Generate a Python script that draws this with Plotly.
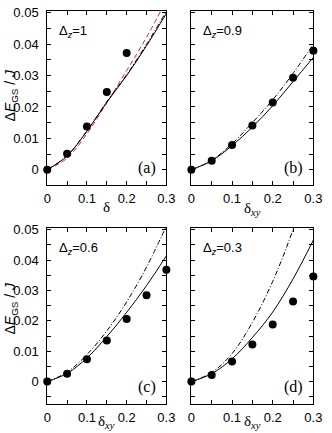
import plotly.graph_objects as go

# ---------------- data ----------------
delta = [0, 0.05, 0.1, 0.15, 0.2, 0.25, 0.3]

a_pts_x = [0, 0.05, 0.1, 0.15, 0.2]
a_pts_y = [0, 0.0051, 0.0138, 0.0248, 0.0372]
a_solid = [0, 0.0044, 0.0123, 0.0215, 0.0300, 0.0395, 0.0498]
a_dashdot = [0, 0.0045, 0.0124, 0.0217, 0.0303, 0.0400, 0.0505]
a_red = [0, 0.0037, 0.0115, 0.0213, 0.0316, 0.0422, 0.0540]

b_pts = [0, 0.0029, 0.0079, 0.0141, 0.0214, 0.0293, 0.0379]
b_solid = [0, 0.0029, 0.0077, 0.0136, 0.0204, 0.0281, 0.0358]
b_dashdot = [0, 0.0030, 0.0083, 0.0150, 0.0223, 0.0307, 0.0400]

c_pts = [0, 0.0026, 0.0074, 0.0135, 0.0206, 0.0284, 0.0368]
c_solid = [0, 0.0027, 0.0078, 0.0148, 0.0228, 0.0316, 0.0414]
c_dashdot = [0, 0.0031, 0.0089, 0.0167, 0.0262, 0.0377, 0.0512]

d_pts = [0, 0.0022, 0.0066, 0.0122, 0.0188, 0.0264, 0.0346]
d_solid = [0, 0.0026, 0.0075, 0.0145, 0.0229, 0.0338, 0.0466]
d_dashdot = [0, 0.0030, 0.0092, 0.0195, 0.0330, 0.0500, 0.0700]

x_tickvals = [0, 0.1, 0.2, 0.3]
x_ticktext = ["0", "0.1", "0.2", "0.3"]
y_tickvals = [0, 0.01, 0.02, 0.03, 0.04, 0.05]
y_ticktext = ["0", "0.01", "0.02", "0.03", "0.04", "0.05"]

panel_labels = ["(a)", "(b)", "(c)", "(d)"]
dz_labels = ["Δ<sub><i>z</i></sub>=1", "Δ<sub><i>z</i></sub>=0.9",
             "Δ<sub><i>z</i></sub>=0.6", "Δ<sub><i>z</i></sub>=0.3"]

W, H = 332, 433
SANS = "Liberation Sans, Arial, sans-serif"
SERIF = "Liberation Serif, Times New Roman, serif"

fig = go.Figure()

# panel pixel boxes (left, right, top, bottom)
boxes = [(45, 169, 5, 182), (195, 322, 5, 182), (45, 169, 225, 404), (195, 322, 225, 404)]
xtitle_y = [204, 206, 422, 422]


def px(x):
    return x / W


def py(y):
    return 1 - y / H


dashdot = "5px,2px,1px,2px"


def add_line(i, x, y, dash, color="black"):
    sfx = "" if i == 0 else str(i + 1)
    fig.add_trace(go.Scatter(x=x, y=y, mode="lines", line=dict(color=color, width=1, dash=dash, shape="spline"),
                             xaxis="x" + sfx, yaxis="y" + sfx, showlegend=False, hoverinfo="skip"))


def add_pts(i, x, y):
    sfx = "" if i == 0 else str(i + 1)
    fig.add_trace(go.Scatter(x=x, y=y, mode="markers", marker=dict(color="black", size=8),
                             xaxis="x" + sfx, yaxis="y" + sfx, showlegend=False, cliponaxis=False))


add_line(0, delta, a_red, "5px,3px", "#e8202a")
add_line(0, delta, a_dashdot, dashdot)
add_line(0, delta, a_solid, "solid")
add_pts(0, a_pts_x, a_pts_y)

add_line(1, delta, b_dashdot, dashdot)
add_line(1, delta, b_solid, "solid")
add_pts(1, delta, b_pts)

add_line(2, delta, c_dashdot, dashdot)
add_line(2, delta, c_solid, "solid")
add_pts(2, delta, c_pts)

add_line(3, delta, d_dashdot, dashdot)
add_line(3, delta, d_solid, "solid")
add_pts(3, delta, d_pts)

layout = dict(width=W, height=H, margin=dict(l=0, r=0, t=0, b=0),
              paper_bgcolor="white", plot_bgcolor="white",
              font=dict(family=SANS, size=13, color="black"))

xtitles = ["δ", "δ<sub><i>xy</i></sub>", "δ<sub><i>xy</i></sub>", "δ<sub><i>xy</i></sub>"]
yranges = [[-0.005, 0.0506], [-0.005, 0.0506], [-0.0075, 0.0506], [-0.0075, 0.0506]]

annotations = []
for i, (l, r, t, b) in enumerate(boxes):
    sfx = "" if i == 0 else str(i + 1)
    axcommon = dict(showline=True, mirror="ticks", linecolor="black", linewidth=1,
                    ticks="inside", ticklen=4, tickwidth=1, tickcolor="black",
                    showgrid=False, zeroline=False, tickfont=dict(family=SANS, size=13),
                    minor=dict(ticks="inside", ticklen=4, tickwidth=1, tickcolor="black", showgrid=False))
    xd = dict(axcommon, domain=[px(l), px(r)], range=[0, 0.3],
              anchor="y" + sfx, tickvals=x_tickvals, ticktext=x_ticktext,
              ticklabelstandoff=1)
    xd["minor"] = dict(axcommon["minor"], dtick=0.05, tick0=0)
    layout["xaxis" + sfx] = xd
    yd = dict(axcommon, domain=[py(b), py(t)], range=yranges[i], anchor="x" + sfx,
              tickvals=y_tickvals, ticktext=y_ticktext, ticklabelstandoff=5,
              showticklabels=(i in (0, 2)))
    yd["minor"] = dict(axcommon["minor"], dtick=0.005, tick0=0)
    layout["yaxis" + sfx] = yd

    # x axis title
    annotations.append(dict(x=px((l + r) / 2), y=py(xtitle_y[i]), xref="paper", yref="paper",
                            text=xtitles[i], showarrow=False, xanchor="center", yanchor="middle",
                            font=dict(family=SERIF, size=15)))
    # delta_z label
    annotations.append(dict(x=px(l + 10), y=py(t + 21), xref="paper", yref="paper",
                            text=dz_labels[i], showarrow=False, xanchor="left", yanchor="middle",
                            font=dict(family=SANS, size=13)))
    # panel label
    annotations.append(dict(x=px(r - 9), y=py(b - 18), xref="paper", yref="paper",
                            text=panel_labels[i], showarrow=False, xanchor="right", yanchor="middle",
                            font=dict(family=SERIF, size=16)))

# y axis titles (centered near the middle of the 0..0.05 span)
for yc in (90, 306):
    annotations.append(dict(x=px(7), y=py(yc), xref="paper", yref="paper",
                            text="Δ<i>E</i><sub>GS</sub> / <i>J</i>", showarrow=False, textangle=-90,
                            xanchor="center", yanchor="middle", font=dict(family=SANS, size=14)))

layout["annotations"] = annotations
fig.update_layout(**layout)
fig.write_html("out.html", config={"displayModeBar": False},
               post_script="document.body.style.margin='0';document.body.style.padding='0';")
